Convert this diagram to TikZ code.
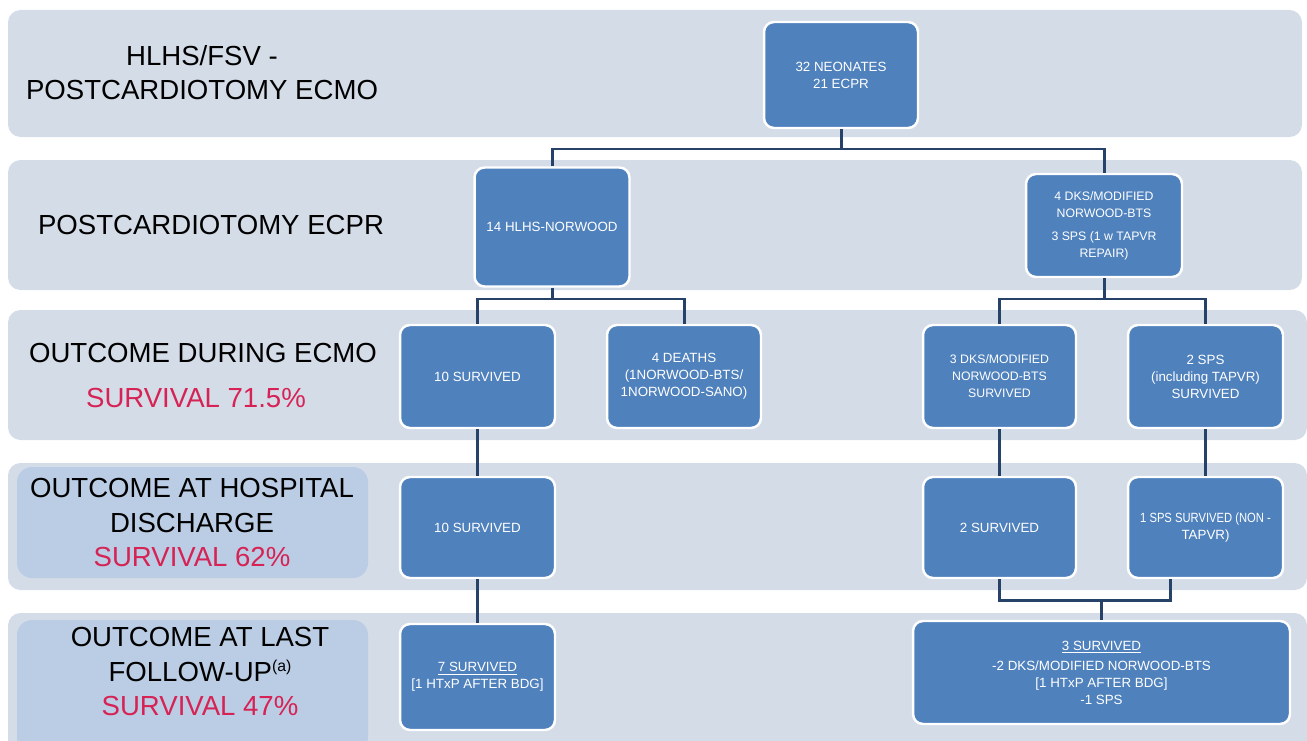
\documentclass[tikz,border=0pt]{standalone}
\usepackage{fontspec}
\setmainfont{Liberation Sans}
\usepackage{xcolor}
\usepackage{tikz}
\usetikzlibrary{positioning,calc}
\definecolor{bandgray}{RGB}{212,220,232}
\definecolor{labelblue}{RGB}{187,205,228}
\definecolor{boxblue}{RGB}{79,129,189}
\definecolor{linknavy}{RGB}{38,66,104}
\definecolor{survred}{RGB}{214,34,84}

\begin{document}
\begin{tikzpicture}[x=0.02cm, y=-0.02cm,
  band/.style={fill=bandgray, rounded corners=0.25cm},
  lblband/.style={fill=labelblue, rounded corners=0.3cm},
  box/.style={rectangle, draw=white, line width=1.4pt, fill=boxblue, rounded corners=0.2cm, text=white, align=center, inner sep=2pt, font=\fontsize{7.6}{9.7}\selectfont},
  small/.style={font=\fontsize{7}{9.7}\selectfont},
  lbl/.style={align=center, inner sep=0pt, font=\fontsize{15.7}{19.6}\selectfont},
  surv/.style={text=survred},
  link/.style={draw=linknavy, line width=1.7pt}]
  \useasboundingbox (0,0) rectangle (1307,740);
  % rows
  \fill[band] (8,10) rectangle (1302,137);
  \fill[band] (8,160) rectangle (1302,290);
  \fill[band] (8,310) rectangle (1307,440);
  \fill[band] (8,463) rectangle (1307,590);
  \fill[band] (8,613) rectangle (1307,752);
  \fill[lblband] (17,467) rectangle (368,578);
  \fill[lblband] (17,620) rectangle (368,752);

  % row titles
  \node[lbl] (lblTop) at (202,72.6) {HLHS/FSV -\\POSTCARDIOTOMY ECMO};
  \node[lbl] (lblEcpr) at (211,225) {POSTCARDIOTOMY ECPR};
  \node[lbl] (lblEcmo) at (203,353) {OUTCOME DURING ECMO};
  \node[lbl, surv] (survEcmo) at (196,398) {SURVIVAL 71.5\%};
  \node[lbl] (lblDisch) at (192,522.6) {OUTCOME AT HOSPITAL\\DISCHARGE\\\textcolor{survred}{SURVIVAL 62\%}};
  \node[lbl] (lblFollow) at (200,671.6) {OUTCOME AT LAST\\FOLLOW-UP\raisebox{0.65ex}{\fontsize{9}{9}\selectfont (a)}\\\textcolor{survred}{SURVIVAL 47\%}};

  % boxes
  \node[box, minimum width=3.08cm, minimum height=2.12cm] (root) at (841,75) {32 NEONATES\\21 ECPR};
  \node[box, minimum width=3.1cm, minimum height=2.38cm] (hlhs) at (552,227) {14 HLHS-NORWOOD};
  \node[box, small, minimum width=3.12cm, minimum height=2.06cm] (dks) at (1104,225.5) {4 DKS/MODIFIED\\NORWOOD-BTS\\[3.4pt]3 SPS (1 w TAPVR\\REPAIR)};
  \node[box, minimum width=3.1cm, minimum height=2.06cm] (hlhsEcmo) at (477.5,376.5) {10 SURVIVED};
  \node[box, minimum width=3.08cm, minimum height=2.06cm] (deaths) at (684,376.5) {4 DEATHS\\(1NORWOOD-BTS/\\1NORWOOD-SANO)};
  \node[box, small, minimum width=3.06cm, minimum height=2.06cm] (dksEcmo) at (999.5,376.5) {3 DKS/MODIFIED\\NORWOOD-BTS\\SURVIVED};
  \node[box, minimum width=3.1cm, minimum height=2.06cm] (spsEcmo) at (1205.5,376.5) {2 SPS\\(including TAPVR)\\SURVIVED};
  \node[box, minimum width=3.1cm, minimum height=2.02cm] (hlhsDisch) at (477.5,527.5) {10 SURVIVED};
  \node[box, minimum width=3.06cm, minimum height=2.02cm] (dksDisch) at (999.5,527.5) {2 SURVIVED};
  \node[box, minimum width=3.1cm, minimum height=2.02cm] (spsDisch) at (1205.5,527.5) {\scalebox{0.84}[1]{1 SPS SURVIVED (NON -}\\TAPVR)};
  \node[box, minimum width=3.1cm, minimum height=2.12cm] (hlhsFollow) at (477.5,677) {\underline{7 SURVIVED}\\{[}1 HTxP AFTER BDG{]}};
  \node[box, minimum width=7.54cm, minimum height=2.06cm] (rightFollow) at (1101.5,672.5) {\underline{3 SURVIVED}\\[1.7pt]-2 DKS/MODIFIED NORWOOD-BTS\\{[}1 HTxP AFTER BDG{]}\\-1 SPS};

  % connectors
  \coordinate (topFork) at (841,149);
  \draw[link] (root) -- (topFork);
  \draw[link] (hlhs.north) |- (topFork) -| (dks.north);
  \coordinate (hlhsFork) at (552,299);
  \draw[link] (hlhs) -- (hlhsFork);
  \draw[link] (hlhsEcmo.north) |- (hlhsFork) -| (deaths.north);
  \coordinate (dksFork) at (1104,299);
  \draw[link] (dks) -- (dksFork);
  \draw[link] (dksEcmo.north) |- (dksFork) -| (spsEcmo.north);
  \draw[link] (hlhsEcmo) -- (hlhsDisch);
  \draw[link] (hlhsDisch) -- (hlhsFollow);
  \draw[link] (dksEcmo) -- (dksDisch);
  \draw[link] (spsEcmo) -- (spsDisch);
  \coordinate (endFork) at (1101.5,600);
  \draw[link] (dksDisch.south) |- (endFork) -| ([xshift=-0.71cm]spsDisch.south);
  \draw[link] (endFork) -- (rightFollow);
\end{tikzpicture}
\end{document}
